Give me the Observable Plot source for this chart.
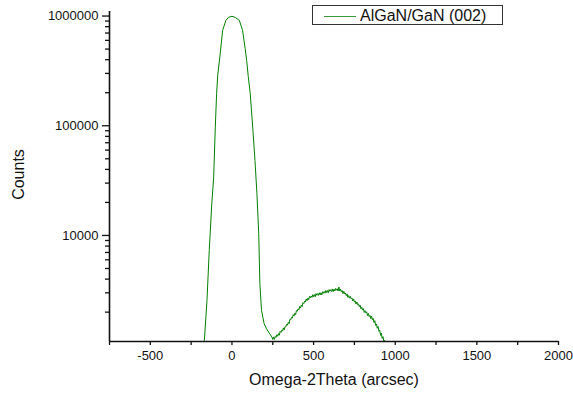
<!DOCTYPE html>
<html>
<head>
<meta charset="utf-8">
<script src="https://cdn.jsdelivr.net/npm/d3@7"></script>
<script src="https://cdn.jsdelivr.net/npm/@observablehq/plot@0.6"></script>
<style>
  html, body { margin: 0; padding: 0; background: #fff; }
  #wrap { position: relative; width: 573px; height: 401px; font-family: Arial, "Liberation Sans", sans-serif; }
  #legend { position: absolute; left: 312px; top: 5px; width: 189px; height: 18px; border: 1px solid #333; background: #fff; }
  #legend .ln { position: absolute; left: 11px; top: 10px; width: 32px; height: 0; border-top: 1px solid #3a9a3a; }
  #legend .tx { position: absolute; left: 47px; top: 0; font-size: 16px; line-height: 19px; color: #111; white-space: nowrap; }
</style>
</head>
<body>
<div id="wrap"></div>
<script>
// Main (GaN) peak
const peakAngle  = [-185, -169, -153, -139, -124, -112, -102, -94, -87, -73, -57, -37, -20, 0, 20, 45, 65, 81, 90, 100, 112, 127, 141, 153, 164, 171, 181, 197, 212, 228, 245];
const peakCounts = [850, 1107, 2560, 7310, 19000, 34000, 97300, 196000, 290000, 440000, 741000, 914000, 975000, 994000, 972000, 914000, 741000, 505000, 394000, 280000, 196000, 97300, 48400, 24000, 10400, 3640, 2080, 1570, 1410, 1290, 1185];
// AlGaN layer peak (noisy)
const humpAngle  = [250, 255, 260, 265, 270, 275, 280, 285, 290, 295, 300, 305, 310, 315, 320, 325, 330, 335, 340, 345, 350, 355, 360, 365, 370, 375, 380, 385, 390, 395, 400, 405, 410, 415, 420, 425, 430, 435, 440, 445, 450, 455, 460, 465, 470, 475, 480, 485, 490, 495, 500, 505, 510, 515, 520, 525, 530, 535, 540, 545, 550, 555, 560, 565, 570, 575, 580, 585, 590, 595, 600, 605, 610, 615, 620, 625, 630, 635, 640, 645, 650, 655, 660, 665, 670, 675, 680, 685, 690, 695, 700, 705, 710, 715, 720, 725, 730, 735, 740, 745, 750, 755, 760, 765, 770, 775, 780, 785, 790, 795, 800, 805, 810, 815, 820, 825, 830, 835, 840, 845, 850, 855, 860, 865, 870, 875, 880, 885, 890, 895, 900, 905, 910, 915, 920, 925, 930, 935, 940, 945, 950];
const humpCounts = [1127, 1190, 1130, 1200, 1178, 1246, 1205, 1275, 1232, 1334, 1307, 1372, 1343, 1437, 1377, 1474, 1470, 1555, 1519, 1617, 1571, 1720, 1703, 1795, 1764, 1895, 1842, 1958, 1901, 2070, 2039, 2142, 2097, 2251, 2185, 2321, 2250, 2441, 2396, 2519, 2470, 2637, 2548, 2688, 2590, 2781, 2703, 2810, 2724, 2884, 2764, 2892, 2765, 2951, 2851, 2948, 2842, 3002, 2871, 3004, 2871, 3069, 2970, 3080, 2979, 3147, 3009, 3147, 3007, 3208, 3099, 3203, 3087, 3255, 3075, 3239, 3116, 3286, 3168, 3269, 3114, 3392, 3116, 3245, 3058, 3142, 2949, 3090, 2930, 2984, 2832, 2936, 2726, 2831, 2685, 2786, 2643, 2693, 2532, 2642, 2470, 2530, 2367, 2472, 2336, 2372, 2244, 2318, 2144, 2213, 2087, 2153, 1989, 2060, 1970, 2014, 1862, 1947, 1823, 1867, 1746, 1841, 1705, 1751, 1610, 1674, 1513, 1560, 1426, 1482, 1339, 1370, 1229, 1284, 1154, 1196, 1088, 1107, 1040, 1010, 980];

const xMajor = [-500, 0, 500, 1000, 1500, 2000];
const xMinor = [-750, -250, 250, 750, 1250, 1750];
const yMajor = [10000, 100000, 1000000];
const yMinor = [2000, 3000, 4000, 5000, 6000, 7000, 8000, 9000, 20000, 30000, 40000, 50000, 60000, 70000, 80000, 90000, 200000, 300000, 400000, 500000, 600000, 700000, 800000, 900000];
const xDomain = [-750, 2000];
const yDomain = [1080, 1100000];
const seriesName = "AlGaN/GaN (002)";
const xTitle = "Omega-2Theta (arcsec)";
const yTitle = "Counts";

const data = [
  ...peakAngle.map((a, i) => ({angle: a, counts: peakCounts[i]})),
  ...humpAngle.map((a, i) => ({angle: a, counts: humpCounts[i]}))
];

const font = "Arial, 'Liberation Sans', sans-serif";
const chart = Plot.plot({
  width: 573,
  height: 401,
  marginLeft: 109,
  marginRight: 15,
  marginTop: 11,
  marginBottom: 60,
  style: {background: "#fff", fontFamily: font, color: "#111"},
  x: {domain: xDomain},
  y: {type: "log", domain: yDomain},
  marks: [
    Plot.line(data, {x: "angle", y: "counts", stroke: "#008000", strokeWidth: 1, clip: true}),
    Plot.axisX({ticks: xMajor, tickSize: 4, tickPadding: 5, tickFormat: d => String(d), fontSize: 13, label: null, strokeWidth: 1.3}),
    Plot.axisX({ticks: xMinor, tickSize: 4, tickFormat: () => "", label: null, strokeWidth: 1.3}),
    Plot.axisY({ticks: yMajor, tickSize: 7, tickPadding: 4, tickFormat: d => String(d), fontSize: 13, label: null, strokeWidth: 1.3}),
    Plot.axisY({ticks: yMinor, tickSize: 4, tickFormat: () => "", label: null, strokeWidth: 1.3}),
    Plot.ruleX([xDomain[0]], {stroke: "#111", strokeWidth: 1.6}),
    Plot.ruleY([yDomain[0]], {stroke: "#111", strokeWidth: 1.6}),
    Plot.text([xTitle], {text: d => d, frameAnchor: "bottom", dy: 43, fontSize: 16, textAnchor: "middle"}),
    Plot.text([yTitle], {text: d => d, frameAnchor: "left", dx: -91, dy: -2, rotate: -90, fontSize: 16, textAnchor: "middle"})
  ]
});

const wrap = document.getElementById("wrap");
wrap.appendChild(chart);
const legend = document.createElement("div");
legend.id = "legend";
legend.innerHTML = '<div class="ln"></div><div class="tx"></div>';
legend.querySelector(".tx").textContent = seriesName;
wrap.appendChild(legend);
</script>
</body>
</html>
